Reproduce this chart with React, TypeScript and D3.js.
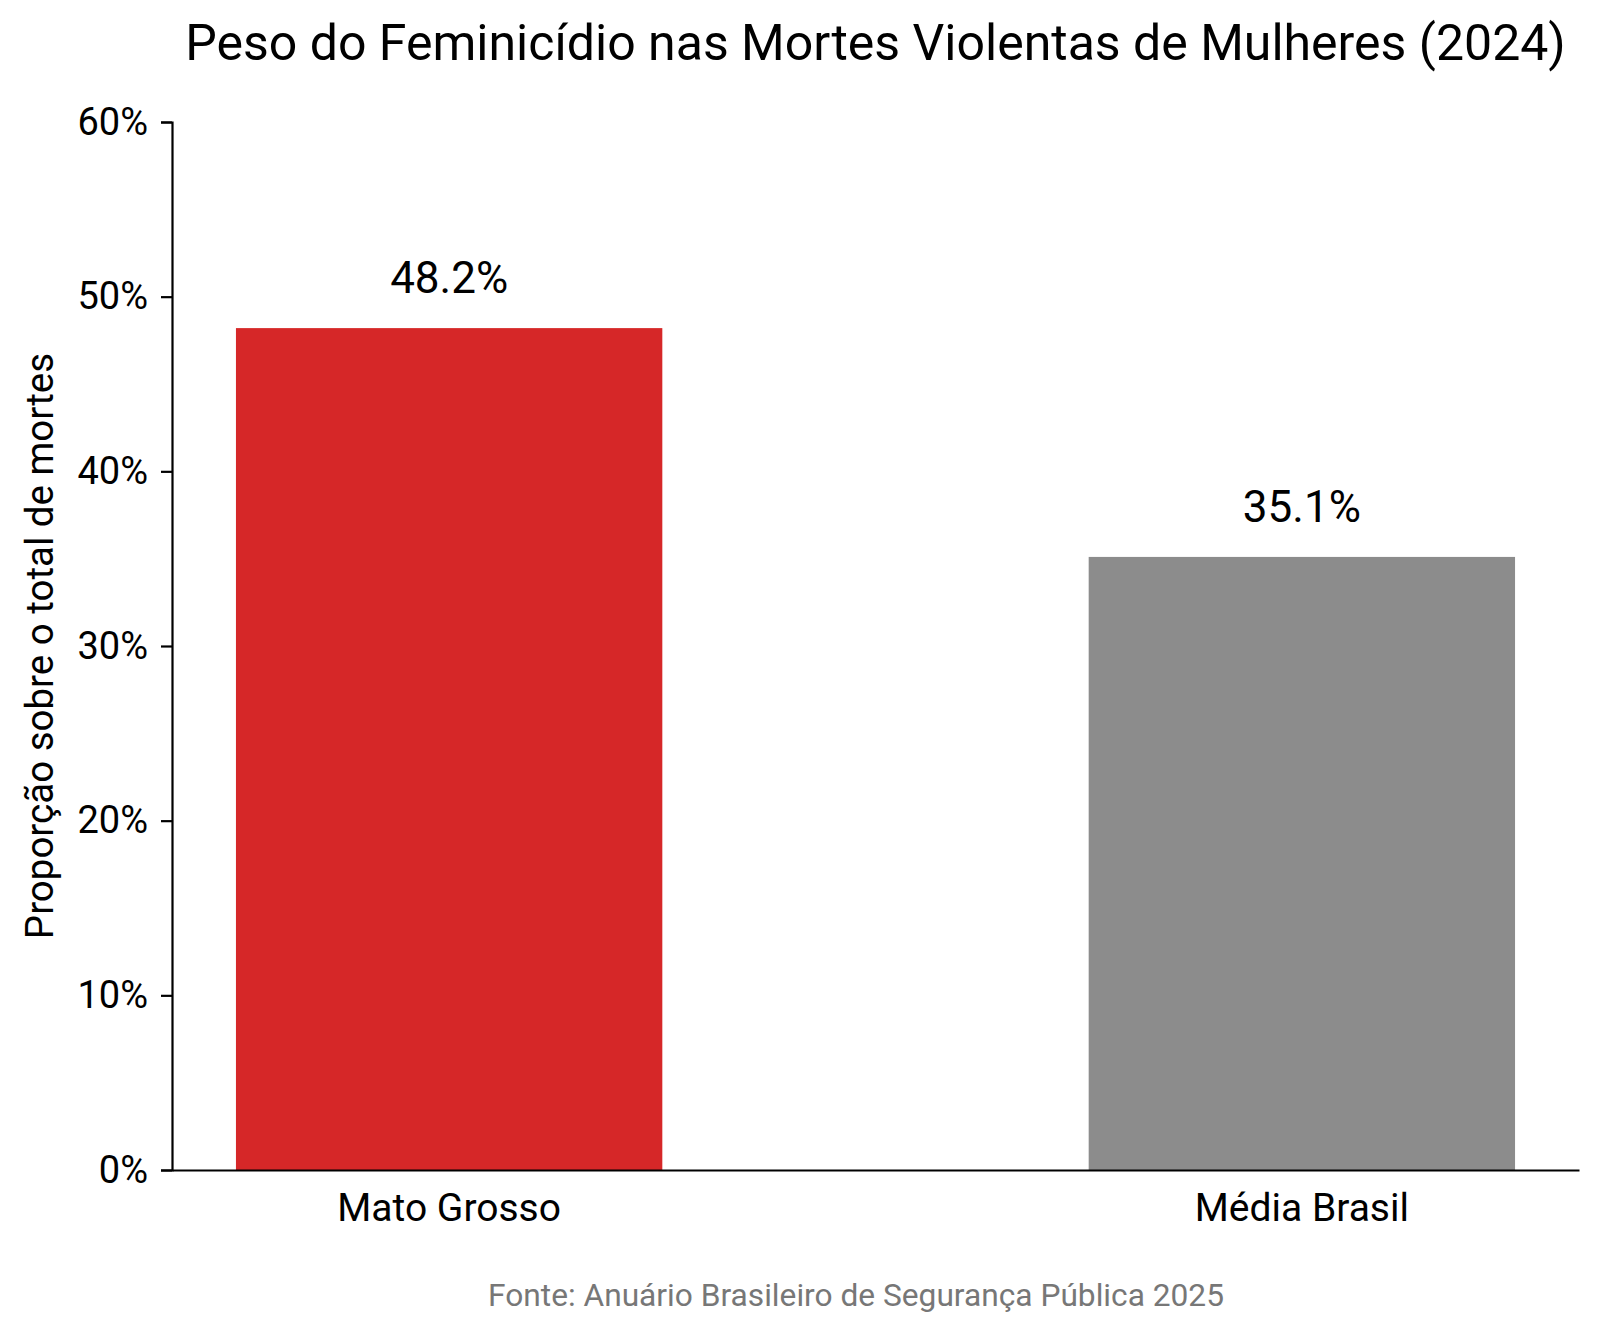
import React, { useRef, useEffect } from "react";
import * as d3 from "d3";

// values
const categories = ["Mato Grosso", "Média Brasil"];
const shares = [48.2, 35.1];
const barColors = ["#d62728", "#8c8c8c"];
const yTicks = [0, 10, 20, 30, 40, 50, 60];

const title = "Peso do Feminicídio nas Mortes Violentas de Mulheres (2024)";
const yLabel = "Proporção sobre o total de mortes";
const source = "Fonte: Anuário Brasileiro de Segurança Pública 2025";

const FONT = "Roboto, 'Open Sans', 'DejaVu Sans', sans-serif";

export default function App() {
  const svgRef = useRef(null);
  const width = 1600;
  const height = 1335;

  useEffect(() => {
    const margin = { top: 122, right: 21, bottom: 165, left: 172 };
    const chartWidth = width - margin.left - margin.right;
    const chartHeight = height - margin.top - margin.bottom;

    const svg = d3.select(svgRef.current);
    svg.selectAll("*").remove();
    svg.attr("width", width).attr("height", height);

    svg.append("rect").attr("width", width).attr("height", height).attr("fill", "#fff");

    const g = svg
      .append("g")
      .attr("transform", `translate(${margin.left},${margin.top})`);

    const x = d3
      .scaleBand()
      .domain(categories)
      .range([0, chartWidth])
      .paddingInner(0.5)
      .paddingOuter(0.075);

    const y = d3.scaleLinear().domain([0, 60]).range([chartHeight, 0]);

    // bars
    g.selectAll(".bar")
      .data(categories)
      .join("rect")
      .attr("class", "bar")
      .attr("x", (d) => x(d))
      .attr("y", (d, i) => y(shares[i]))
      .attr("width", x.bandwidth())
      .attr("height", (d, i) => chartHeight - y(shares[i]))
      .attr("fill", (d, i) => barColors[i]);

    // value labels
    g.selectAll(".value")
      .data(categories)
      .join("text")
      .attr("class", "value")
      .attr("x", (d) => x(d) + x.bandwidth() / 2)
      .attr("y", (d, i) => y(shares[i]) - 35)
      .attr("text-anchor", "middle")
      .style("font-family", FONT)
      .style("font-size", "44px")
      .attr("fill", "#000")
      .text((d, i) => `${shares[i].toFixed(1)}%`);

    // x axis
    const xAxis = g
      .append("g")
      .attr("transform", `translate(0,${chartHeight})`)
      .call(d3.axisBottom(x).tickSize(0).tickPadding(23));
    xAxis.select(".domain").attr("stroke", "#000").attr("stroke-width", 2.2);
    xAxis
      .selectAll("text")
      .style("font-family", FONT)
      .style("font-size", "39px")
      .attr("fill", "#000");

    // y axis
    const yAxis = g
      .append("g")
      .call(
        d3
          .axisLeft(y)
          .tickValues(yTicks)
          .tickFormat((d) => `${d}%`)
          .tickSize(11)
          .tickSizeOuter(11)
          .tickPadding(13)
      );
    yAxis.select(".domain").attr("stroke", "#000").attr("stroke-width", 2.2);
    yAxis.selectAll(".tick line").attr("stroke", "#000").attr("stroke-width", 2.2);
    yAxis
      .selectAll("text")
      .style("font-family", FONT)
      .style("font-size", "38px")
      .attr("fill", "#000");

    // y label
    g.append("text")
      .attr("transform", `translate(${-margin.left + 53},${chartHeight / 2}) rotate(-90)`)
      .attr("text-anchor", "middle")
      .style("font-family", FONT)
      .style("font-size", "38.5px")
      .attr("fill", "#000")
      .text(yLabel);

    // title
    svg
      .append("text")
      .attr("x", margin.left + chartWidth / 2)
      .attr("y", 60)
      .attr("text-anchor", "middle")
      .style("font-family", FONT)
      .style("font-size", "50px")
      .attr("fill", "#000")
      .text(title);

    // source
    svg
      .append("text")
      .attr("x", 856)
      .attr("y", 1306)
      .attr("text-anchor", "middle")
      .style("font-family", FONT)
      .style("font-size", "31.7px")
      .attr("fill", "#777")
      .text(source);
  }, []);

  return <svg ref={svgRef} style={{ position: "absolute", left: 0, top: 0 }}></svg>;
}
